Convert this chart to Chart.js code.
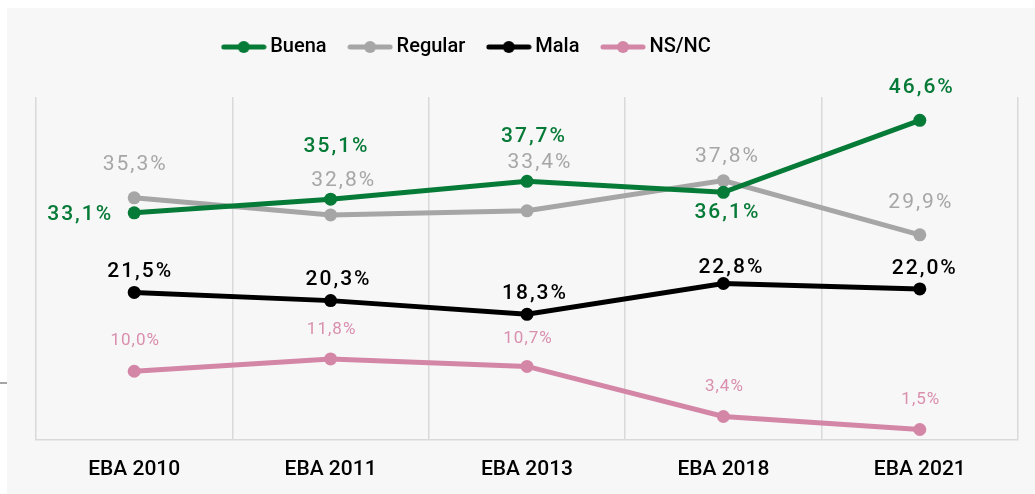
<!DOCTYPE html>
<html>
<head>
<meta charset="utf-8">
<script src="https://cdn.jsdelivr.net/npm/chart.js@4"></script>
<style>
  body { margin: 0; background: #fff; }
  #panel { position: absolute; left: 7px; top: 8px; width: 1028px; height: 486px; background: #f7f7f7; overflow: hidden; }
  #tick { position: absolute; left: 0; top: 382px; width: 7px; height: 2px; background: #a6a6a6; }
</style>
</head>
<body>
<div id="tick"></div>
<div id="panel"><canvas id="grafica" width="1028" height="491"></canvas></div>
<script>
const categorias = ['EBA 2010', 'EBA 2011', 'EBA 2013', 'EBA 2018', 'EBA 2021'];
const buena = [33.1, 35.1, 37.7, 36.1, 46.6];
const regular = [35.3, 32.8, 33.4, 37.8, 29.9];
const mala = [21.5, 20.3, 18.3, 22.8, 22.0];
const nsnc = [10.0, 11.8, 10.7, 3.4, 1.5];

const verde = '#067a37';
const gris = '#a6a6a6';
const negro = '#000000';
const rosa = '#d486a6';

// donde va cada etiqueta respecto al punto (dx, dy)
const offsets = [
  [[-55, 2], [5, -52], [6, -45], [3, 20], [1, -33]],
  [[0, -33], [12, -34], [12, -48], [3, -24], [0, -32]],
  [[5, -21], [7, -21], [7, -21], [7, -16], [4, -20]],
  [[0, -30], [0, -29], [0, -28], [0, -30], [0, -30]]
];
const fuentesEtiqueta = [
  '500 21px Roboto',
  '400 21px Roboto',
  '500 21px Roboto',
  '400 17px Roboto'
];
const espaciado = ['2px', '2px', '2px', '1px'];
const coloresEtiqueta = [verde, gris, negro, '#d98fae'];

function marcador(color) {
  const c = document.createElement('canvas');
  c.width = 46;
  c.height = 14;
  const ctx = c.getContext('2d');
  ctx.strokeStyle = color;
  ctx.lineWidth = 5;
  ctx.lineCap = 'round';
  ctx.beginPath();
  ctx.moveTo(3, 7);
  ctx.lineTo(43, 7);
  ctx.stroke();
  ctx.fillStyle = color;
  ctx.beginPath();
  ctx.arc(23, 7, 6, 0, Math.PI * 2);
  ctx.fill();
  return c;
}

const espacioLeyenda = {
  id: 'espacioLeyenda',
  beforeInit(chart) {
    const fit = chart.legend.fit;
    chart.legend.fit = function() {
      fit.call(this);
      this.height += 30;
    };
  },
  afterLayout(chart) {
    // la leyenda del original no esta centrada
    chart.legend.left -= 58;
    chart.legend.right -= 58;
  }
};

const etiquetas = {
  id: 'etiquetas',
  afterDatasetsDraw(chart) {
    const ctx = chart.ctx;
    ctx.save();
    ctx.textAlign = 'center';
    ctx.textBaseline = 'middle';
    chart.data.datasets.forEach((ds, i) => {
      const meta = chart.getDatasetMeta(i);
      ctx.font = fuentesEtiqueta[i];
      ctx.letterSpacing = espaciado[i];
      ctx.fillStyle = coloresEtiqueta[i];
      meta.data.forEach((p, j) => {
        const txt = ds.data[j].toFixed(1).replace('.', ',') + '%';
        ctx.fillText(txt, p.x + offsets[i][j][0] + 1, p.y + offsets[i][j][1]);
      });
    });
    ctx.restore();
  }
};

function serie(label, data, color) {
  return {
    label: label,
    data: data,
    borderColor: color,
    backgroundColor: color,
    borderWidth: 5,
    pointRadius: 6.5,
    pointHoverRadius: 6.5,
    pointBackgroundColor: color,
    pointBorderWidth: 0,
    tension: 0,
    fill: false
  };
}

const ctx = document.getElementById('grafica').getContext('2d');
const chart = new Chart(ctx, {
  type: 'line',
  data: {
    labels: categorias,
    datasets: [
      serie('Buena', buena, verde),
      serie('Regular', regular, gris),
      serie('Mala', mala, negro),
      serie('NS/NC', nsnc, rosa)
    ]
  },
  options: {
    responsive: false,
    animation: false,
    layout: { padding: { left: 29, right: 17, top: 2, bottom: 0 } },
    plugins: {
      tooltip: { enabled: false },
      legend: {
        position: 'top',
        labels: {
          usePointStyle: true,
          pointStyleWidth: 33,
          padding: 27,
          color: '#000',
          font: { family: 'Roboto', size: 20, weight: '500' },
          generateLabels(chart) {
            return Chart.defaults.plugins.legend.labels.generateLabels(chart).map(l => {
              l.pointStyle = marcador(chart.data.datasets[l.datasetIndex].borderColor);
              return l;
            });
          }
        }
      }
    },
    scales: {
      x: {
        offset: true,
        grid: { offset: true, color: '#d9d9d9', lineWidth: 1.5, drawTicks: false },
        border: { color: '#d9d9d9', width: 1.5 },
        ticks: { color: '#000', padding: 17, font: { family: 'Roboto', size: 21, weight: '500' } }
      },
      y: {
        display: false,
        min: 0,
        max: 50
      }
    }
  },
  plugins: [espacioLeyenda, etiquetas]
});
</script>
</body>
</html>
